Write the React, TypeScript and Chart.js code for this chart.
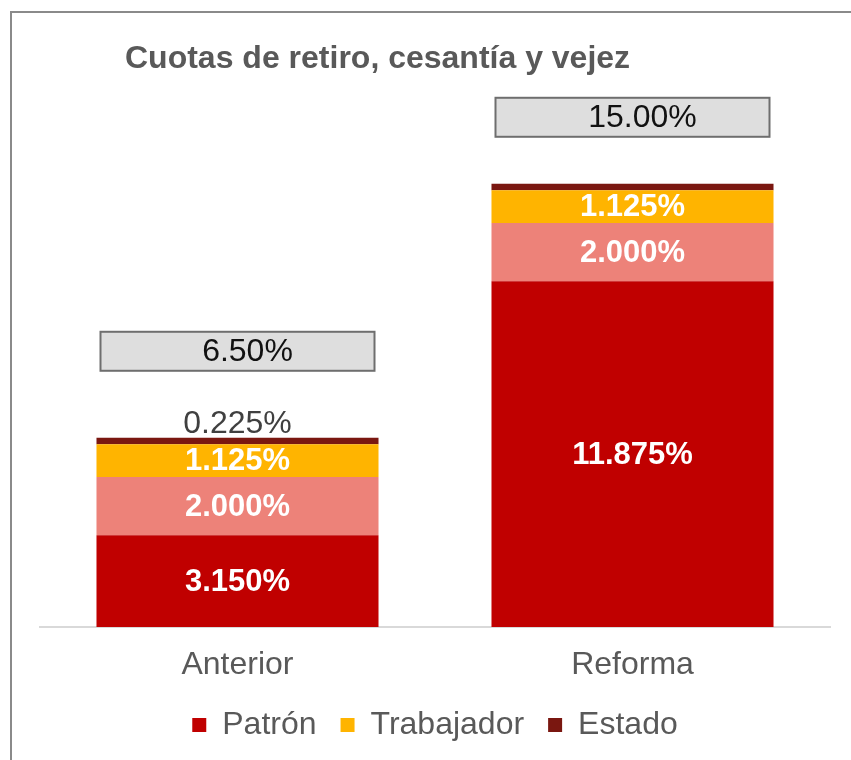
import React, { useEffect, useRef } from 'react';
import { Chart, registerables } from 'chart.js';

Chart.register(...registerables);

// ---- Data ----
const categories = ['Anterior', 'Reforma'];
const patronValues = [3.15, 11.875];
const patronExtraValues = [2.0, 2.0];
const trabajadorValues = [1.125, 1.125];
const estadoValues = [0.225, 0.225];
const totalValues = [6.5, 15.0];
const chartTitle = 'Cuotas de retiro, cesantía y vejez';

const FONT = '"Liberation Sans", Arial, sans-serif';

const framePlugin = {
  id: 'frame',
  beforeDraw(chart: any) {
    const ctx = chart.ctx;
    ctx.save();
    ctx.fillStyle = '#ffffff';
    ctx.fillRect(0, 0, chart.width, chart.height);
    ctx.strokeStyle = '#8a8a8a';
    ctx.lineWidth = 2;
    ctx.beginPath();
    ctx.moveTo(11, chart.height);
    ctx.lineTo(11, 12);
    ctx.lineTo(chart.width, 12);
    ctx.stroke();
    ctx.restore();
  },
  afterDraw(chart: any) {
    const ctx = chart.ctx;
    ctx.save();
    ctx.font = `bold 32px ${FONT}`;
    ctx.fillStyle = '#595959';
    ctx.textAlign = 'left';
    ctx.textBaseline = 'alphabetic';
    ctx.fillText(chartTitle, 125, 68);
    ctx.restore();
  },
};

const labelPlugin = {
  id: 'segLabels',
  afterDatasetsDraw(chart: any) {
    const ctx = chart.ctx;
    ctx.save();
    ctx.textAlign = 'center';
    ctx.textBaseline = 'middle';
    chart.data.datasets.forEach((ds: any, di: number) => {
      const meta = chart.getDatasetMeta(di);
      meta.data.forEach((el: any, i: number) => {
        const v = ds.data[i] as number;
        if (di === 3) {
          if (i !== 0) return;
          ctx.font = `32px ${FONT}`;
          ctx.fillStyle = '#404040';
          ctx.fillText(v.toFixed(3) + '%', el.x, el.y - 14);
          return;
        }
        ctx.font = `bold 31px ${FONT}`;
        ctx.fillStyle = '#ffffff';
        ctx.fillText(v.toFixed(3) + '%', el.x, (el.y + el.base) / 2 + 1);
      });
    });
    // total boxes
    const gaps = [67, 47];
    const topMeta = chart.getDatasetMeta(3);
    totalValues.forEach((t, i) => {
      const el = topMeta.data[i];
      const bw = 274;
      const bh = 39;
      const bottom = el.y - gaps[i];
      const top = bottom - bh;
      const left = el.x - bw / 2;
      ctx.fillStyle = '#dedede';
      ctx.fillRect(left, top, bw, bh);
      ctx.strokeStyle = '#6e6e6e';
      ctx.lineWidth = 2;
      ctx.strokeRect(left, top, bw, bh);
      ctx.font = `32px ${FONT}`;
      ctx.fillStyle = '#111111';
      ctx.fillText(t.toFixed(2) + '%', el.x + 10, top + bh / 2 + 1);
    });
    ctx.restore();
  },
};

export default function App() {
  const ref = useRef<HTMLCanvasElement | null>(null);

  useEffect(() => {
    if (!ref.current) return;
    const common = { barPercentage: 0.714, categoryPercentage: 1.0, borderWidth: 0 };
    const chart = new Chart(ref.current, {
      type: 'bar',
      data: {
        labels: categories,
        datasets: [
          { label: 'Patrón', data: patronValues, backgroundColor: '#C00000', ...common },
          { label: 'Patrón (adicional)', data: patronExtraValues, backgroundColor: '#ED8279', ...common },
          { label: 'Trabajador', data: trabajadorValues, backgroundColor: '#FFB400', ...common },
          { label: 'Estado', data: estadoValues, backgroundColor: '#7A1710', ...common },
        ],
      },
      options: {
        responsive: false,
        animation: false,
        layout: { padding: { left: 40, right: 21, top: 103, bottom: 9 } },
        plugins: {
          title: { display: false },
          tooltip: { enabled: false },
          legend: {
            position: 'bottom',
            labels: {
              font: { family: FONT, size: 32 },
              color: '#595959',
              boxWidth: 14,
              boxHeight: 14,
              padding: 24,
              filter: (item: any) => item.datasetIndex !== 1,
            },
          },
        },
        scales: {
          x: {
            stacked: true,
            grid: { display: false, drawTicks: false },
            border: { display: true, color: '#d9d9d9', width: 2 },
            ticks: { font: { family: FONT, size: 32 }, color: '#595959', padding: 19 },
            afterFit: (scale: any) => {
              scale.height = 58;
            },
          },
          y: { stacked: true, display: false, min: 0, max: 18 },
        },
      },
      plugins: [framePlugin, labelPlugin],
    });
    return () => chart.destroy();
  }, []);

  return (
    <div style={{ position: 'absolute', left: 0, top: 0, width: 851, height: 760 }}>
      <canvas ref={ref} width={851} height={760} style={{ width: 851, height: 760, display: 'block' }} />
    </div>
  );
}
